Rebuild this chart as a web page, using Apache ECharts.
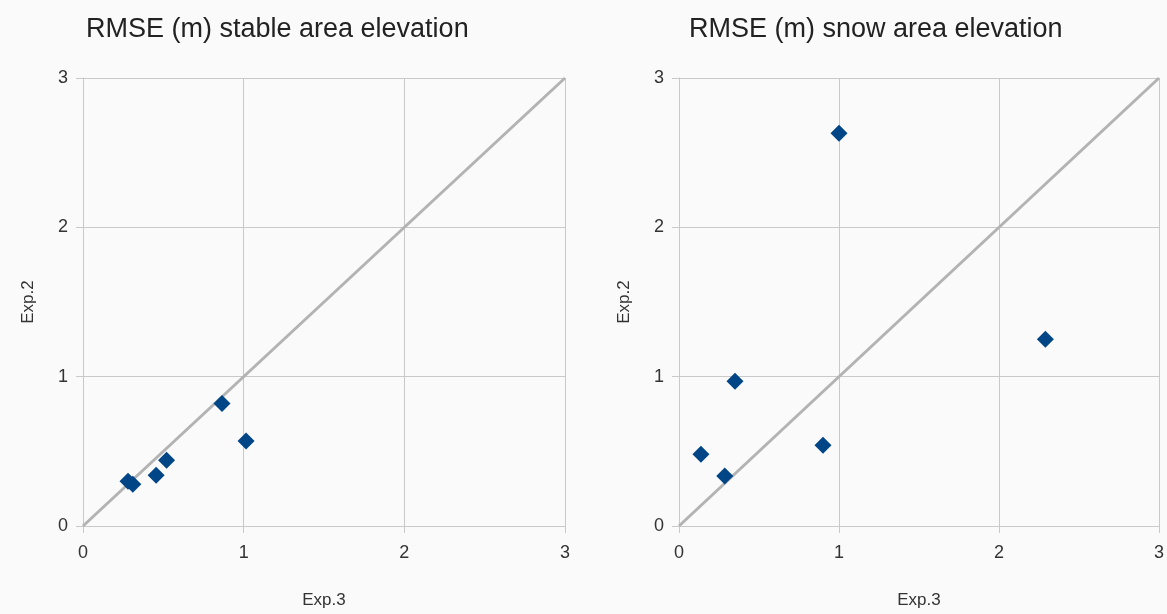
<!DOCTYPE html>
<html>
<head>
<meta charset="utf-8">
<script src="https://cdn.jsdelivr.net/npm/echarts@6/dist/echarts.min.js"></script>
<style>
  html, body { margin: 0; padding: 0; background: #fafafa; }
  #chart { width: 1167px; height: 614px; }
</style>
</head>
<body>
<div id="chart"></div>
<script>
// RMSE (m) of Exp.3 (x) against Exp.2 (y)
const stableTitle = 'RMSE (m) stable area elevation';
const snowTitle = 'RMSE (m) snow area elevation';
const xAxisName = 'Exp.3';
const yAxisName = 'Exp.2';

const stablePoints = [
  [0.28, 0.30],
  [0.31, 0.28],
  [0.455, 0.34],
  [0.52, 0.44],
  [0.865, 0.82],
  [1.015, 0.57]
];

const snowPoints = [
  [0.137, 0.48],
  [0.286, 0.335],
  [0.35, 0.97],
  [0.90, 0.54],
  [1.00, 2.63],
  [2.29, 1.25]
];

// 1:1 reference line
const identityLine = [[0, 0], [3, 3]];

const axisMin = 0;
const axisMax = 3;
const axisStep = 1;

const fontFamily = 'Liberation Sans, Arial, sans-serif';
const gridColor = '#c9c9c9';
const labelStyle = { color: '#333', fontSize: 18, fontFamily: fontFamily };

function valueAxis(gridIndex, isX) {
  return {
    type: 'value',
    gridIndex: gridIndex,
    min: axisMin,
    max: axisMax,
    interval: axisStep,
    name: isX ? xAxisName : yAxisName,
    nameLocation: 'middle',
    nameGap: isX ? 66 : 46,
    nameTextStyle: { color: '#333', fontSize: 17, fontFamily: fontFamily },
    axisLine: { show: true, lineStyle: { color: gridColor, width: 1 } },
    axisTick: { show: true, length: 7, lineStyle: { color: gridColor } },
    axisLabel: Object.assign({ margin: isX ? 18 : 15 }, labelStyle),
    splitLine: { show: true, lineStyle: { color: gridColor, width: 1 } }
  };
}

function diagSeries(i) {
  return {
    type: 'line',
    xAxisIndex: i,
    yAxisIndex: i,
    data: identityLine,
    symbol: 'none',
    silent: true,
    lineStyle: { color: '#b3b3b3', width: 3 },
    z: 2
  };
}

function pointSeries(i, data) {
  return {
    type: 'scatter',
    xAxisIndex: i,
    yAxisIndex: i,
    data: data,
    symbol: 'diamond',
    symbolSize: 17,
    itemStyle: { color: '#004586', opacity: 1 },
    z: 3
  };
}

const titleStyle = { color: '#222', fontSize: 27, fontWeight: 'normal', fontFamily: fontFamily };

const chart = echarts.init(document.getElementById('chart'), null, { renderer: 'canvas' });
chart.setOption({
  backgroundColor: '#fafafa',
  animation: false,
  title: [
    { text: stableTitle, left: 81, top: 11, textStyle: titleStyle },
    { text: snowTitle, left: 684, top: 11, textStyle: titleStyle }
  ],
  grid: [
    { left: 83, top: 78, width: 482, height: 448 },
    { left: 679, top: 78, width: 481, height: 448 }
  ],
  xAxis: [valueAxis(0, true), valueAxis(1, true)],
  yAxis: [valueAxis(0, false), valueAxis(1, false)],
  series: [
    diagSeries(0),
    pointSeries(0, stablePoints),
    diagSeries(1),
    pointSeries(1, snowPoints)
  ]
});
</script>
</body>
</html>
